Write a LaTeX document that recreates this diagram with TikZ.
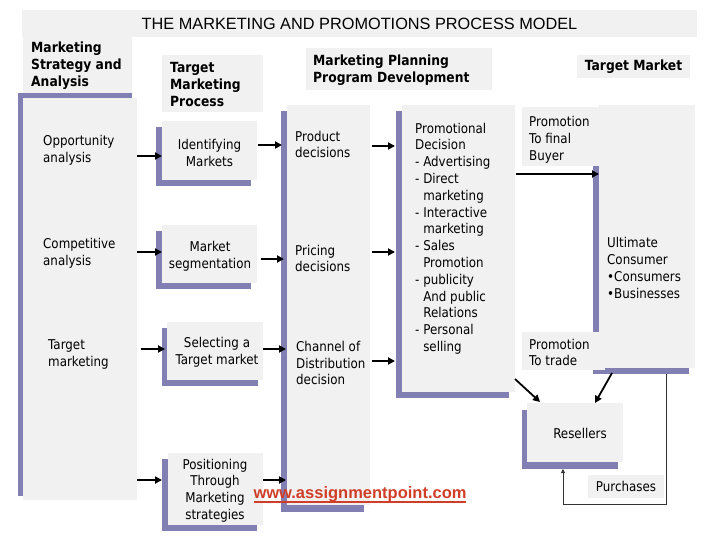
\documentclass[tikz,border=0pt]{standalone}
\usepackage{fontspec}
\setmainfont{DejaVu Sans}[FakeStretch=0.88]
\newfontfamily\titlefont{Liberation Sans}
\usetikzlibrary{shadows,arrows.meta}
\definecolor{boxgray}{RGB}{241,241,241}
\definecolor{purp}{RGB}{130,128,178}
\definecolor{wmred}{RGB}{208,62,40}
\newcommand\wmul[1]{\setbox0=\hbox{#1}\leavevmode\rlap{\copy0}\rule[-4.5pt]{\wd0}{2pt}}
\begin{document}
\begin{tikzpicture}[x=1pt,y=-1pt,
  gbox/.style={fill=boxgray, draw=none, inner sep=0pt, outer sep=0pt, anchor=north west},
  shad/.style 2 args={general shadow={fill=purp, shadow xshift=#1, shadow yshift=#2}},
  txt/.style={inner sep=0pt, align=left, font=\fontsize{13.5}{16.8}\selectfont},
  ctxt/.style={txt, align=center},
  hdr/.style={inner sep=0pt, align=left, font=\bfseries\fontsize{14}{17}\selectfont},
  arr/.style={line width=1.8pt, -{Triangle[length=7pt,width=7pt]}},
  fb/.style={line width=0.8pt, draw=black!80, -{Triangle[length=4pt,width=4pt]}}]
\fill[white] (0,0) rectangle (720,540);
\useasboundingbox (0,0) rectangle (720,540);

% title
\node[gbox, minimum width=675pt, minimum height=27pt,
      font=\titlefont\fontsize{16.3}{18}\selectfont] (title) at (22,10)
      {THE MARKETING AND PROMOTIONS PROCESS MODEL};

% column 1
\node[gbox, minimum width=109pt, minimum height=60pt] (h1) at (23,37) {};
\node[hdr, anchor=west] (h1t) at (31,66) {Marketing\\Strategy and\\Analysis};
\node[gbox, shad={-5.5pt}{4.5pt}, minimum width=114pt, minimum height=402pt] (c1) at (23,98) {};
\node[txt, anchor=west] (opp) at (43,150.5) {Opportunity\\analysis};
\node[txt, anchor=west] (comp) at (43,253) {Competitive\\analysis};
\node[txt, anchor=west] (tmk) at (48,354.5) {Target\\marketing};

% column 2
\node[gbox, minimum width=101pt, minimum height=57pt] (h2) at (162,55) {};
\node[hdr, anchor=west] (h2t) at (170,84.5) {Target\\Marketing\\Process};
\node[gbox, shad={-6pt}{-6pt}, minimum width=95pt, minimum height=59pt] (idm) at (162,121) {};
\node[ctxt] (idmt) at (209.5,153) {Identifying\\Markets};
\node[gbox, shad={-6pt}{-6pt}, minimum width=95pt, minimum height=58pt] (seg) at (162,225) {};
\node[ctxt] (segt) at (210,256) {Market\\segmentation};
\node[gbox, shad={-5pt}{-6pt}, minimum width=96pt, minimum height=58pt] (sel) at (167,322) {};
\node[ctxt] (selt) at (217,352) {Selecting a\\Target market};
\node[gbox, shad={-6pt}{-6pt}, minimum width=95pt, minimum height=72pt] (pos) at (168,453) {};
\node[ctxt] (post) at (215,490.5) {Positioning\\Through\\Marketing\\strategies};

% column 3
\node[gbox, minimum width=186pt, minimum height=42pt] (h3) at (306,48) {};
\node[hdr, anchor=west] (h3t) at (313,70.5) {Marketing Planning\\Program Development};
\node[gbox, shad={-6pt}{-6.5pt}, minimum width=83pt, minimum height=400pt] (c3) at (287,105) {};
\node[txt, anchor=west] (prod) at (295,144.5) {Product\\decisions};
\node[txt, anchor=west] (pric) at (295,258.5) {Pricing\\decisions};
\node[txt, anchor=west] (chan) at (296,363) {Channel of\\Distribution\\decision};

% column 4
\node[gbox, shad={-6.5pt}{-6pt}, minimum width=113pt, minimum height=287pt] (c4) at (402,105) {};
\node[txt, anchor=west] (c4t) at (415,238.5) {Promotional\\Decision\\- Advertising\\- Direct\\\phantom{- }marketing\\- Interactive\\\phantom{- }marketing\\- Sales\\\phantom{- }Promotion\\- publicity\\\phantom{- }And public\\\phantom{- }Relations\\- Personal\\\phantom{- }selling};

% target market column
\node[gbox, minimum width=113pt, minimum height=23pt, font=\bfseries\fontsize{14}{17}\selectfont] (htm) at (577,55) {Target Market};
\node[gbox, shad={-6pt}{-6pt}, minimum width=96pt, minimum height=263pt] (ult) at (599,105) {};
\node[txt, anchor=west] (ultt) at (607,268) {Ultimate\\Consumer\\•Consumers\\•Businesses};
\node[gbox, minimum width=78pt, minimum height=59pt] (pfb) at (522,107) {};
\node[txt, anchor=west] (pfbt) at (529,140) {Promotion\\To final\\Buyer};
\node[gbox, minimum width=83pt, minimum height=38pt] (ptt) at (522,332) {};
\node[txt, anchor=west] (pttt) at (529,352.5) {Promotion\\To trade};
\node[gbox, shad={-5pt}{-6.5pt}, minimum width=96pt, minimum height=59pt] (res) at (527,403) {};
\node[txt] (rest) at (580,433) {Resellers};
\node[gbox, minimum width=76pt, minimum height=23pt, font=\fontsize{13.5}{16.8}\selectfont] (pur) at (588,475) {Purchases};

% arrows column 1 -> column 2
\draw[arr] ([yshift=-5.5pt]idm.west -| c1.east) -- ([yshift=-5.5pt]idm.west);
\draw[arr] ([yshift=2pt]seg.west -| c1.east) -- ([yshift=2pt]seg.west);
\draw[arr] ([xshift=4pt,yshift=2pt]sel.west -| c1.east) -- ([xshift=-2pt,yshift=2pt]sel.west);
\draw[arr] ([yshift=9pt]pos.west -| c1.east) -- ([xshift=-6pt,yshift=9pt]pos.west);
% column 2 -> column 3
\draw[arr] ([xshift=1pt,yshift=5.5pt]idm.east) -- ([xshift=-5pt,yshift=5.5pt]idm.east -| c3.west);
\draw[arr] ([xshift=4pt,yshift=-5pt]seg.east) -- ([xshift=-3pt,yshift=-5pt]seg.east -| c3.west);
\draw[arr] ([yshift=2pt]sel.east) -- ([xshift=-1pt,yshift=2pt]sel.east -| c3.west);
\draw[arr] ([yshift=9pt]pos.east) -- ([xshift=-1pt,yshift=9pt]pos.east -| c3.west);
% column 3 -> column 4
\draw[arr] ([xshift=2pt,yshift=159pt]c3.east) -- ([xshift=-7pt,yshift=159pt]c3.east -| c4.west);
\draw[arr] ([xshift=2pt,yshift=53pt]c3.east) -- ([xshift=-7pt,yshift=53pt]c3.east -| c4.west);
\draw[arr] ([xshift=2pt,yshift=-56pt]c3.east) -- ([xshift=-7pt,yshift=-56pt]c3.east -| c4.west);
% to target market
\draw[arr] ([xshift=1pt,yshift=74.5pt]c4.east) -- ([yshift=74.5pt]c4.east -| ult.west);
\draw[arr] ([yshift=-130.5pt]c4.east) -- ([xshift=13pt,yshift=1pt]res.north west);
\draw[arr] ([xshift=-35pt,yshift=-5pt]ult.south) -- ([xshift=20pt]res.north);
\draw[fb] ([xshift=19pt,yshift=-6pt]ult.south) -- ++(0,130) -| ([xshift=-12pt,yshift=-7pt]res.south);

% watermark
\node[font=\titlefont\bfseries\fontsize{16.5}{18}\selectfont, text=wmred, anchor=base, inner sep=0pt] (wm) at (360,498) {\wmul{www.assignmentpoint.com}};
\end{tikzpicture}
\end{document}
